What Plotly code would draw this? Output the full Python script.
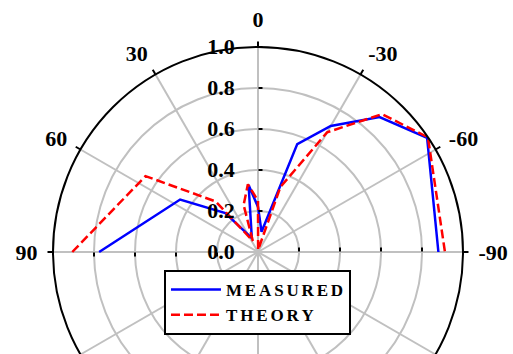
import plotly.graph_objects as go

# Beam pattern: angle (deg) vs normalised amplitude
measured_theta = [90, 56, 40, 24, 8, 0, -10, -20, -30, -42, -56, -90]
measured_r = [0.775, 0.458, 0.248, 0.074, 0.33, 0.22, 0.10, 0.56, 0.71, 0.886, 0.995, 0.88]

theory_theta = [90, 56, 40, 25, 17, 8.5, 0, -3, -19, -30, -42, -56, -90]
theory_r = [0.906, 0.662, 0.322, 0.06, 0.24, 0.334, 0.25, 0.01, 0.335, 0.674, 0.905, 1.0, 0.912]

angle_ticks = [0, 30, 60, 90, 120, 150, 180, 210, 240, 270, 300, 330]
angle_labels = ["0", "30", "60", "90", "120", "150", "180", "-150", "-120", "-90", "-60", "-30"]

radial_ticks = [0.0, 0.2, 0.4, 0.6, 0.8, 1.0]
radial_labels = ["0.0", "0.2", "0.4", "0.6", "0.8", "1.0"]
axis_ticks = [0.2, 0.4, 0.6, 0.8]

FONT = "Liberation Serif, Times New Roman, serif"
GRID = "#c0c0c0"
FULL = dict(x=[0, 1], y=[0, 1])


def spaced(word):
    return "\u2006".join(word)


fig = go.Figure()
fig.add_trace(go.Scatterpolar(
    r=measured_r, theta=measured_theta, mode="lines",
    name=spaced("MEASURED"),
    line=dict(color="#0000ff", width=2.5),
))
fig.add_trace(go.Scatterpolar(
    r=theory_r, theta=theory_theta, mode="lines",
    name=spaced("THEORY"),
    line=dict(color="#ff0000", width=2.5, dash="9px,4px"),
))

# invisible traces anchoring the tick-only overlays
for sub in ("polar2", "polar3", "polar4", "polar5"):
    fig.add_trace(go.Scatterpolar(r=[0], theta=[0], mode="markers",
                                  marker=dict(opacity=0), showlegend=False,
                                  hoverinfo="skip", subplot=sub))

common_angular = dict(rotation=90, direction="counterclockwise")


def tick_overlay(angle, vals, ticks):
    # transparent polar carrying only radial tick marks along one direction
    return dict(
        domain=FULL,
        bgcolor="rgba(0,0,0,0)",
        angularaxis=dict(**common_angular, visible=False),
        radialaxis=dict(range=[0, 1.0], angle=angle, showline=False, showgrid=False,
                        tickmode="array", tickvals=vals,
                        showticklabels=False, ticks=ticks, ticklen=4,
                        tickwidth=2, tickcolor="black"),
    )


fig.update_layout(
    width=513, height=477,
    margin=dict(l=53, r=50, t=47, b=20),
    paper_bgcolor="white",
    font=dict(family=FONT, color="black"),
    showlegend=True,
    legend=dict(
        x=0.2707, y=0.456, xanchor="left", yanchor="top",
        bgcolor="white", bordercolor="black", borderwidth=2,
        font=dict(family=FONT, size=17, color="black", weight="bold"),
        itemwidth=50,
    ),
    polar=dict(
        domain=FULL,
        bgcolor="white",
        angularaxis=dict(
            **common_angular,
            tickmode="array", tickvals=angle_ticks, ticktext=angle_labels,
            showline=True, linecolor="black", linewidth=2,
            ticks="outside", ticklen=10, tickwidth=2, tickcolor="rgba(0,0,0,0)",
            gridcolor=GRID, gridwidth=2,
            tickfont=dict(family=FONT, size=22, color="black", weight="bold"),
        ),
        radialaxis=dict(
            range=[0, 1.0], angle=90, side="counterclockwise",
            tickmode="array", tickvals=radial_ticks, ticktext=radial_labels,
            showline=False,
            ticks="outside", ticklen=15, tickwidth=2, tickcolor="rgba(0,0,0,0)",
            gridcolor=GRID, gridwidth=2,
            tickfont=dict(family=FONT, size=22, color="black", weight="bold"),
            tickangle=90,
        ),
    ),
    polar2=tick_overlay(180, axis_ticks, "inside"),
    polar3=tick_overlay(0, axis_ticks, "inside"),
    polar5=tick_overlay(90, radial_ticks[1:], "outside"),
    polar4=dict(
        domain=FULL,
        bgcolor="rgba(0,0,0,0)",
        radialaxis=dict(visible=False, range=[0, 1.0]),
        angularaxis=dict(
            **common_angular,
            tickmode="array", tickvals=angle_ticks, showticklabels=False,
            showline=False, showgrid=False,
            ticks="outside", ticklen=5, tickwidth=2, tickcolor="black",
        ),
    ),
)

fig.write_html(
    "out.html",
    post_script="document.documentElement.style.overflow='hidden';"
                "document.body.style.overflow='hidden';document.body.style.margin='0';",
)
